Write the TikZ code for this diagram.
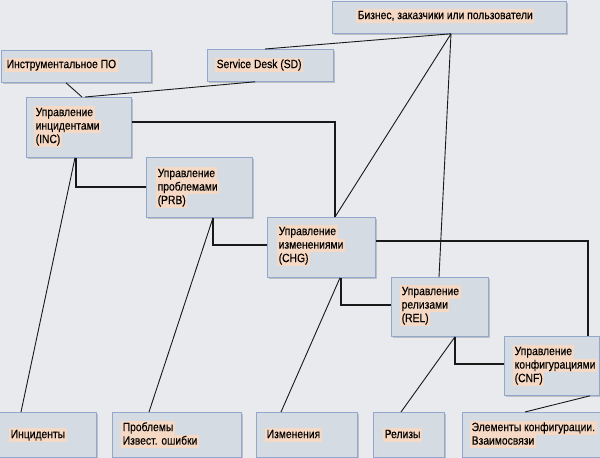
\documentclass[tikz,border=0pt]{standalone}
\usepackage{fontspec}
\setmainfont[FakeStretch=0.86,FakeBold=0.4]{Liberation Sans}
\usetikzlibrary{shadows,calc}
\definecolor{bgcol}{HTML}{E8EAED}
\definecolor{boxfill}{HTML}{D4DBE2}
\definecolor{boxline}{HTML}{93A6CB}
\definecolor{hlcol}{HTML}{F6D9C4}
\newcommand\hlt[1]{{\setlength{\fboxsep}{0pt}\colorbox{hlcol}{\rule[-3.6pt]{0pt}{13.5pt}\hspace{1.5pt}#1\hspace{1.5pt}}}}
\newcommand\boxfont{\fontsize{12}{13.5}\selectfont\setlength{\lineskip}{0pt}\setlength{\lineskiplimit}{0pt}}
\tikzset{
  box/.style={draw=boxline, line width=0.8pt, fill=boxfill, inner sep=0pt,
    drop shadow={shadow xshift=2pt, shadow yshift=-2pt, opacity=0.18, fill=black}},
  txt/.style={anchor=north west, inner sep=0pt, align=left, font=\boxfont},
  thinl/.style={line width=0.9pt, black!90},
  thickl/.style={line width=1.9pt, black!90}
}
\newcommand\mkbox[5]{\node[box, anchor=north west, minimum width=#4pt-#2pt, minimum height=#5pt-#3pt] (#1) at (#2,#3) {};}
\begin{document}
\begin{tikzpicture}[x=1pt,y=-1pt]
\useasboundingbox (0,0) rectangle (600,458);
\clip (0,0) rectangle (600,458);
\fill[bgcol] (0,0) rectangle (600,458);
% boxes
\mkbox{tool}{0.5}{50}{151}{82}
\mkbox{sd}{207}{49}{333}{81}
\mkbox{biz}{332}{1}{566}{33}
\mkbox{inc}{26}{97}{131}{157}
\mkbox{prb}{146}{157}{252}{217}
\mkbox{chg}{267}{217}{375}{277}
\mkbox{rel}{391}{277}{488}{336}
\mkbox{cnf}{504}{336}{599}{395}
\mkbox{incb}{-3}{412}{96}{457}
\mkbox{prbb}{112}{412}{241}{457}
\mkbox{chgb}{256}{412}{357}{457}
\mkbox{relb}{373}{412}{444}{457}
\mkbox{cnfb}{462}{412}{608}{457}
% texts
\node[txt] (tool-t) at (5,58) {\hlt{Инструментальное ПО}};
\node[txt] (sd-t) at (215,58) {\hlt{Service Desk (SD)}};
\node[txt] (biz-t) at (356,9) {\hlt{Бизнес, заказчики или пользователи}};
\node[txt] (inc-t) at (34,106) {\hlt{Управление}\\\hlt{инцидентами}\\\hlt{(INC)}};
\node[txt] (prb-t) at (156,167) {\hlt{Управление}\\\hlt{проблемами}\\\hlt{(PRB)}};
\node[txt] (chg-t) at (277,225) {\hlt{Управление}\\\hlt{изменениями}\\\hlt{(CHG)}};
\node[txt] (rel-t) at (400,285) {\hlt{Управление}\\\hlt{релизами}\\\hlt{(REL)}};
\node[txt] (cnf-t) at (513,345) {\hlt{Управление}\\\hlt{конфигурациями}\\\hlt{(CNF)}};
\node[txt] (incb-t) at (9,428) {\hlt{Инциденты}};
\node[txt] (prbb-t) at (121,421) {\hlt{Проблемы}\\\hlt{Извест. ошибки}};
\node[txt] (chgb-t) at (265,428) {\hlt{Изменения}};
\node[txt] (relb-t) at (383,428) {\hlt{Релизы}};
\node[txt] (cnfb-t) at (470,421) {\hlt{Элементы конфигурации.}\\\hlt{Взаимосвязи}};
% thin connectors
\draw[thinl] ([xshift=65.5pt]tool.south west) -- ([xshift=56pt]inc.north west);
\draw[thinl] ([xshift=59pt]inc.north west) -- ([xshift=48pt]sd.south west);
\draw[thinl] ([xshift=58pt]sd.north west) -- ([xshift=119pt]biz.south west);
\draw[thinl] ([xshift=119pt]biz.south west) -- ([xshift=68pt]chg.north west);
\draw[thinl] ([xshift=119pt]biz.south west) -- ([xshift=48pt]rel.north west);
\draw[thinl] ([xshift=49pt]inc.south west) -- ([xshift=24pt]incb.north west);
\draw[thinl] ([xshift=67pt]prb.south west) -- ([xshift=37pt]prbb.north west);
\draw[thinl] ([xshift=73pt]chg.south west) -- ([xshift=25pt]chgb.north west);
\draw[thinl] ([xshift=64pt]rel.south west) -- ([xshift=28pt]relb.north west);
\draw[thinl] ([xshift=86pt]cnf.south west) -- ([xshift=63pt]cnfb.north west);
% thick connectors
\draw[thickl] ([yshift=-25pt]inc.north east) -| ([xshift=68pt]chg.north west);
\draw[thickl] ([xshift=50pt]inc.south west) |- ([yshift=-30pt]prb.north west);
\draw[thickl] ([xshift=67pt]prb.south west) |- ([yshift=-28pt]chg.north west);
\draw[thickl] ([yshift=-24pt]chg.north east) -| ([xshift=84pt]cnf.north west);
\draw[thickl] ([xshift=74pt]chg.south west) |- ([yshift=-28pt]rel.north west);
\draw[thickl] ([xshift=64pt]rel.south west) |- ([yshift=-28pt]cnf.north west);
\end{tikzpicture}
\end{document}
